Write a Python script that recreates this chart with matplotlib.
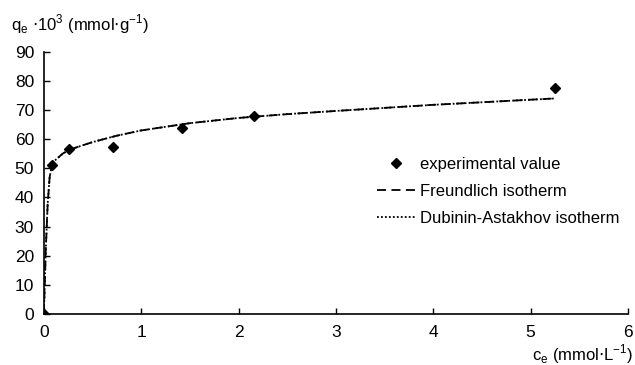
import matplotlib
matplotlib.use("Agg")
import matplotlib.pyplot as plt

plt.rcParams['font.family'] = ['Liberation Sans', 'DejaVu Sans']

# experimental points
c_exp = [0.0, 0.08, 0.26, 0.71, 1.42, 2.16, 5.25]
q_exp = [0.0, 51.3, 56.6, 57.3, 63.8, 67.8, 77.5]

# fitted curves
c_fit = [0.0, 0.01, 0.02, 0.04, 0.06, 0.08, 0.1, 0.2, 0.3, 0.5, 0.75, 1.0, 1.5, 2.0, 2.5, 3.0, 4.0, 5.25]
q_freundlich = [0.0, 10, 22, 38, 47, 50.5, 52.3, 55.2, 56.8, 59.0, 61.2, 63.0, 65.5, 67.3, 68.6, 69.7, 71.8, 74.0]
q_da = [0.0, 10, 22, 38, 47, 50.5, 52.3, 55.2, 56.8, 59.0, 61.2, 63.0, 65.5, 67.3, 68.6, 69.7, 71.8, 74.0]

fig = plt.figure(figsize=(6.35, 3.65), dpi=100)
ax = fig.add_axes([0.069, 0.14, 0.92, 0.718])

ax.plot(c_fit, q_freundlich, color='black', linestyle=(0, (5, 3)), linewidth=1.3,
        label='Freundlich isotherm')
ax.plot(c_fit, q_da, color='black', linestyle=(0, (1, 1.2)), linewidth=1.3,
        label='Dubinin-Astakhov isotherm')
ax.plot(c_exp, q_exp, linestyle='none', marker='D', markersize=5.5, color='black',
        label='experimental value')

ax.set_xlim(0, 6)
ax.set_ylim(0, 90)
ax.set_xticks(range(0, 7))
ax.set_yticks(range(0, 91, 10))
ax.tick_params(direction='in', length=4, width=1, labelsize=12.5)
ax.tick_params(axis='x', pad=8)
ax.tick_params(axis='y', pad=7)
for s in ['top', 'right']:
    ax.spines[s].set_visible(False)
for s in ['left', 'bottom']:
    ax.spines[s].set_linewidth(1.2)

handles, labels = ax.get_legend_handles_labels()
order = [2, 0, 1]
ax.legend([handles[i] for i in order], [labels[i] for i in order],
          loc='upper left', bbox_to_anchor=(0.545, 0.655), frameon=False,
          fontsize=12, handlelength=2.3, handletextpad=0.25, labelspacing=0.7)

fig.text(0.017, 0.935, r'q$_\mathregular{e}$ $\cdot$10$^\mathregular{3}$ (mmol$\cdot$g$^\mathregular{-1}$)',
         fontsize=12, ha='left', va='center')
fig.text(0.997, 0.03, r'c$_\mathregular{e}$ (mmol$\cdot$L$^\mathregular{-1}$)',
         fontsize=12, ha='right', va='center')

fig.savefig('out.png', dpi=100, facecolor='white')
